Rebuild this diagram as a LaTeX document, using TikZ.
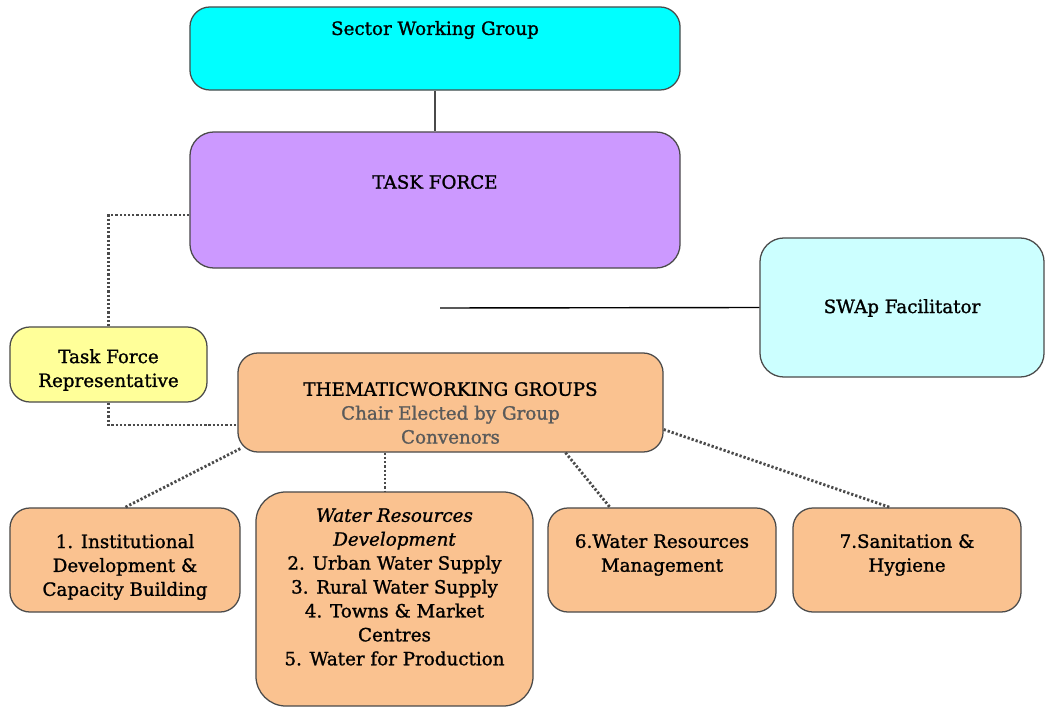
\documentclass[tikz,border=0pt]{standalone}
\usepackage{fontspec}
\setmainfont{DejaVu Serif}[FakeBold=1.2]
\usetikzlibrary{calc}
\definecolor{swgCyan}{HTML}{00FFFF}
\definecolor{tfPurple}{HTML}{CC99FF}
\definecolor{swapCyan}{HTML}{CCFFFF}
\definecolor{tfrYellow}{HTML}{FFFF99}
\definecolor{groupPeach}{HTML}{FAC290}
\definecolor{edgeGrey}{HTML}{4A4A4A}
\definecolor{noteGrey}{HTML}{5A5A5A}

\tikzset{
  orgbox/.style={draw=edgeGrey, line width=0.9pt, rounded corners=0.5cm, inner sep=0pt},
  orgtext/.style={align=center, inner sep=0pt},
  link/.style={draw=edgeGrey, line width=1pt},
  dotlink/.style={draw=edgeGrey, line width=2pt, dash pattern=on 1.6pt off 1.4pt}
}

\begin{document}
\begin{tikzpicture}[x=0.025cm, y=-0.025cm, font=\fontsize{13}{17}\selectfont]
    \useasboundingbox (0,0) rectangle (1046,708);

    % cadres
    \node[orgbox, fill=swgCyan, minimum width=12.25cm, minimum height=2.075cm] (swg) at (435,48.5) {};
    \node[orgbox, fill=tfPurple, rounded corners=0.6cm, minimum width=12.25cm, minimum height=3.4cm] (tf) at (435,200) {};
    \node[orgbox, fill=swapCyan, rounded corners=0.6cm, minimum width=7.1cm, minimum height=3.475cm] (swap) at (902,307.5) {};
    \node[orgbox, fill=tfrYellow, minimum width=4.925cm, minimum height=1.875cm] (tfr) at (108.5,364.5) {};
    \node[orgbox, fill=groupPeach, minimum width=10.625cm, minimum height=2.475cm] (twg) at (450.5,402.5) {};
    \node[orgbox, fill=groupPeach, minimum width=5.75cm, minimum height=2.6cm] (grpA) at (125,560) {};
    \node[orgbox, fill=groupPeach, rounded corners=0.75cm, minimum width=6.925cm, minimum height=5.35cm] (grpB) at (394.5,599) {};
    \node[orgbox, fill=groupPeach, minimum width=5.7cm, minimum height=2.6cm] (grpC) at (662,560) {};
    \node[orgbox, fill=groupPeach, minimum width=5.7cm, minimum height=2.6cm] (grpD) at (907,560) {};

    % textes
    \node[orgtext] (swgText) at (435,30) {Sector Working Group};
    \node[orgtext] (tfText) at (435,182) {TASK FORCE};
    \node[orgtext] (swapText) at (902,308) {SWAp Facilitator};
    \node[orgtext] (tfrText) at (108.5,370) {Task Force\\Representative};
    \node[orgtext] (twgText) at (450.5,413)
      {THEMATICWORKING GROUPS\\{\color{noteGrey}Chair Elected by Group}\\{\color{noteGrey}Convenors}};
    \node[orgtext] (grpAText) at (125,567) {1. Institutional\\Development \&\\Capacity Building};
    \node[orgtext] (grpBText) at (394.5,587)
      {{\itshape Water Resources}\\{\itshape Development}\\2. Urban Water Supply\\3. Rural Water Supply\\4. Towns \& Market\\Centres\\5. Water for Production};
    \node[orgtext] (grpCText) at (662,555) {6.Water Resources\\Management};
    \node[orgtext] (grpDText) at (907,555) {7.Sanitation \&\\Hygiene};

    % liaisons
    \coordinate (swapEnd) at (440,308);
    \draw[link] (swg.south) -- (tf.north);
    \draw[link, draw=black] (swapEnd) -- (swap.west);
    \draw[dotlink] ($(tf.west)+(0,15)$) -| (tfr.north);
    \draw[dotlink] (tfr.south) |- ($(twg.west)+(0,22.5)$);
    \draw[dotlink] ($(twg.south west)+(3,-4)$) -- (grpA.north);
    \draw[dotlink] ($(grpB.north |- twg.south)+(-9.5,0)$) -- ($(grpB.north)+(-9.5,0)$);
    \draw[dotlink] ($(twg.south)+(115,0)$) -- ($(grpC.north)+(-52,0)$);
    \draw[dotlink] ($(twg.east)+(0,27)$) -- ($(grpD.north)+(-17,0)$);
\end{tikzpicture}
\end{document}
